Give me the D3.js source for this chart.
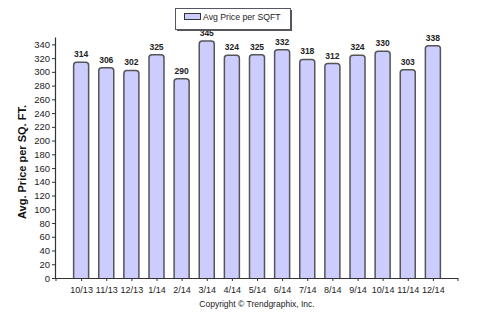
<!DOCTYPE html>
<html><head><meta charset="utf-8">
<script src="https://cdn.jsdelivr.net/npm/d3@7"></script>
<style>
html,body{margin:0;padding:0;background:#fff;}
svg{display:block;font-family:"Liberation Sans",Arial,sans-serif;}
</style></head>
<body><svg id="c" width="484" height="322"></svg>
<script>
const categories = ["10/13","11/13","12/13","1/14","2/14","3/14","4/14","5/14","6/14","7/14","8/14","9/14","10/14","11/14","12/14"];
const values = [314,306,302,325,290,345,324,325,332,318,312,324,330,303,338];
const yTicks = [0,20,40,60,80,100,120,140,160,180,200,220,240,260,280,300,320,340];
const seriesName = "Avg Price per SQFT";
const yTitle = "Avg. Price per SQ. FT.";
const copyright = "Copyright \u00A9 Trendgraphix, Inc.";

const svg = d3.select("#c");
const x0 = 56, x1 = 458, yBottom = 278, yTop = 37.5;
const x = d3.scalePoint().domain(categories).range([x0, x1]).padding(1);
const y = d3.scaleLinear().domain([0, 350]).range([yBottom, yTop]);
const step = x.step();
const bw = 15, r = 3;

// bars
const g = svg.append("g");
categories.forEach((c, i) => {
  const cx = x(c), v = values[i];
  const L = cx - bw/2, R = cx + bw/2, T = y(v), B = y(0);
  const p = `M${L},${B}V${T+r}Q${L},${T} ${L+r},${T}H${R-r}Q${R},${T} ${R},${T+r}V${B}`;
  g.append("path").attr("d", p).attr("fill", "#ccccff").attr("stroke", "#555").attr("stroke-width", 1.5);
  g.append("text").attr("x", cx).attr("y", T - 5).attr("text-anchor", "middle")
    .attr("font-size", "8.5px").attr("font-weight", "bold").attr("fill", "#222").text(v);
});

// y axis
const yAxis = d3.axisLeft(y).tickValues(yTicks).tickSize(4).tickPadding(2);
const ya = svg.append("g").attr("transform", `translate(${x0},0)`).call(yAxis);
ya.select(".domain").attr("d", `M-0.5,${yTop}V${yBottom}`).attr("stroke", "#333").attr("stroke-width", 1.2);
ya.selectAll(".tick line").attr("stroke", "#333");
ya.selectAll(".tick text").attr("font-size", "9.5px").attr("fill", "#222").attr("font-family", "Liberation Sans, Arial, sans-serif");

// x axis
const xAxis = d3.axisBottom(x).tickSize(3).tickPadding(6);
const xa = svg.append("g").attr("transform", `translate(0,${yBottom})`).call(xAxis);
xa.select(".domain").attr("d", `M${x0},0.5H${x1}`).attr("stroke", "#333").attr("stroke-width", 1.2);
xa.selectAll(".tick line").attr("stroke", "#333");
xa.selectAll(".tick text").attr("font-size", "9px").attr("fill", "#222").attr("font-family", "Liberation Sans, Arial, sans-serif");
[x0, x1].forEach(px => xa.append("line").attr("x1", px).attr("x2", px).attr("y1", 0).attr("y2", 3).attr("stroke", "#333"));

// y title
svg.append("text").attr("transform", `translate(26,162) rotate(-90)`).attr("text-anchor", "middle")
  .attr("font-size", "11px").attr("font-weight", "bold").attr("fill", "#111").text(yTitle);

// legend
const lg = svg.append("g");
lg.append("rect").attr("x", 177).attr("y", 10).attr("width", 115).attr("height", 21).attr("fill", "#555");
lg.append("rect").attr("x", 175.5).attr("y", 8.5).attr("width", 115).attr("height", 21).attr("fill", "#fff").attr("stroke", "#556").attr("stroke-width", 1);
lg.append("rect").attr("x", 184.5).attr("y", 13.5).attr("width", 16).attr("height", 6).attr("fill", "#ccccff").attr("stroke", "#333").attr("stroke-width", 1);
lg.append("text").attr("x", 203).attr("y", 20).attr("font-size", "8.7px").attr("fill", "#222").text(seriesName);

// copyright
svg.append("text").attr("x", 257).attr("y", 307).attr("text-anchor", "middle")
  .attr("font-size", "8.5px").attr("fill", "#222").text(copyright);
</script></body></html>
